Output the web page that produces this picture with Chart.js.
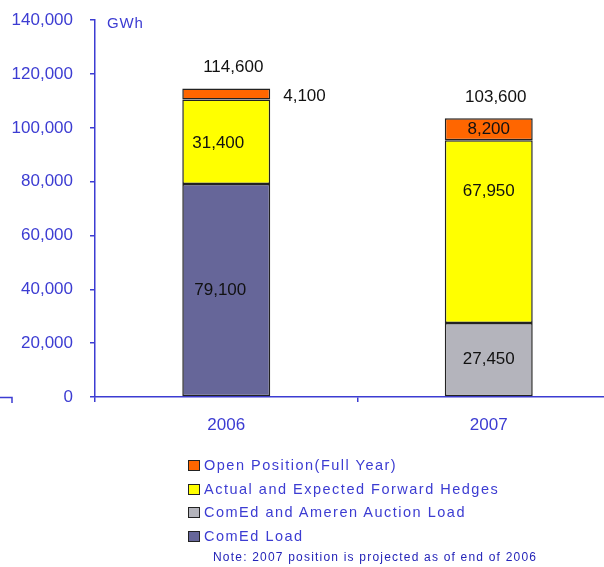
<!DOCTYPE html>
<html>
<head>
<meta charset="utf-8">
<script src="https://cdn.jsdelivr.net/npm/chart.js@4.4.1/dist/chart.umd.min.js"></script>
<style>
  html, body { margin: 0; padding: 0; background: #fff; overflow: hidden; }
  #marco { position: relative; width: 604px; height: 567px; overflow: hidden; }
  #grafica { position: absolute; left: 0; top: -7px; }
  #leyenda {
    position: absolute; left: 188px; top: 453px;
    font-family: "Liberation Sans", Arial, sans-serif; color: #3c3cd2;
  }
  .fila { height: 23.7px; line-height: 24px; font-size: 14.5px; letter-spacing: 1.5px; white-space: nowrap; }
  .caja {
    display: inline-block; width: 10px; height: 9px; border: 1.5px solid #222;
    vertical-align: -1px; margin-right: 4px;
  }
  #nota {
    margin-left: 25px; margin-top: 2px; font-size: 12px; letter-spacing: 1.2px;
    color: #2424b8; white-space: nowrap;
  }
</style>
</head>
<body>
<div id="marco">
  <canvas id="grafica" width="620" height="567"></canvas>
  <div id="leyenda"></div>
</div>
<script>
// Datos (GWh)
const anios = ['2006', '2007'];
const cargaComEd = [79100, null];
const subastaComEdAmeren = [null, 27450];
const coberturas = [31400, 67950];
const posicionAbierta = [4100, 8200];
const ticksY = [0, 20000, 40000, 60000, 80000, 100000, 120000, 140000];

const AZUL = '#3c3cd2';
const FUENTE = '"Liberation Sans", Arial, sans-serif';
const fmt = v => v.toLocaleString('en-US');

// Etiquetas de valor dentro/al lado de cada segmento y totales encima
const etiquetasPlugin = {
  id: 'etiquetas',
  afterDatasetsDraw(chart) {
    const ctx = chart.ctx;
    const escalaY = chart.scales.y;
    ctx.save();
    ctx.font = '17px ' + FUENTE;
    ctx.fillStyle = '#111';
    ctx.textBaseline = 'middle';

    chart.data.datasets.forEach((ds, i) => {
      const meta = chart.getDatasetMeta(i);
      meta.data.forEach((barra, j) => {
        const valor = ds.data[j];
        if (valor == null) return;
        const [dx, dy] = (ds.despEtiqueta && ds.despEtiqueta[j]) || [0, 0];
        const yMedio = (barra.y + barra.base) / 2 + dy;
        if (ds.posEtiqueta && ds.posEtiqueta[j] === 'derecha') {
          ctx.textAlign = 'left';
          ctx.fillText(fmt(valor), barra.x + barra.width / 2 + dx, yMedio);
        } else {
          ctx.textAlign = 'center';
          ctx.fillText(fmt(valor), barra.x + dx, yMedio);
        }
      });
    });

    // Totales de cada año
    ctx.textAlign = 'center';
    anios.forEach((_, j) => {
      const total = chart.data.datasets.reduce((s, ds) => s + (ds.data[j] || 0), 0);
      const barra = chart.getDatasetMeta(3).data[j];
      ctx.fillText(fmt(total), barra.x + 7, escalaY.getPixelForValue(total) - 21);
    });

    // Unidad junto al eje
    ctx.font = '15px ' + FUENTE;
    ctx.fillStyle = AZUL;
    ctx.textAlign = 'left';
    if ('letterSpacing' in ctx) ctx.letterSpacing = '0.8px';
    ctx.fillText('GWh', chart.chartArea.left + 12, escalaY.getPixelForValue(140000) + 4);
    ctx.restore();

    // resto de eje en el borde izquierdo
    const y0 = escalaY.getPixelForValue(0);
    ctx.save();
    ctx.strokeStyle = AZUL;
    ctx.lineWidth = 1.5;
    ctx.beginPath();
    ctx.moveTo(0, y0 + 0.5);
    ctx.lineTo(12, y0 + 0.5);
    ctx.lineTo(12, y0 + 6);
    ctx.stroke();
    ctx.restore();
  }
};

const borde = { borderColor: '#222', borderWidth: 1.5, borderSkipped: false };

const grafica = new Chart(document.getElementById('grafica'), {
  type: 'bar',
  data: {
    labels: anios,
    datasets: [
      { label: 'ComEd Load', data: cargaComEd, backgroundColor: '#666699', ...borde,
        despEtiqueta: [[-6, 0], [0, 0]] },
      { label: 'ComEd and Ameren Auction Load', data: subastaComEdAmeren, backgroundColor: '#b4b4bc', ...borde },
      { label: 'Actual and Expected Forward Hedges', data: coberturas, backgroundColor: '#ffff00', ...borde,
        despEtiqueta: [[-8, 1], [0, -40]] },
      { label: 'Open Position(Full Year)', data: posicionAbierta, backgroundColor: '#ff6600', ...borde,
        posEtiqueta: ['derecha', 'dentro'], despEtiqueta: [[13, 2], [0, 0]] }
    ]
  },
  options: {
    responsive: false,
    animation: false,
    barPercentage: 0.335,
    categoryPercentage: 1,
    layout: { autoPadding: false, padding: { top: 20, right: 0, left: 0, bottom: 0 } },
    plugins: {
      legend: { display: false },
      tooltip: { enabled: false }
    },
    scales: {
      x: {
        stacked: true,
        afterFit: escala => { escala.height = 163; },
        border: { color: AZUL, width: 1.5 },
        grid: { offset: true, drawOnChartArea: false, tickLength: 5, color: AZUL, lineWidth: 1.5 },
        ticks: { color: AZUL, padding: 13, font: { family: FUENTE, size: 17 } }
      },
      y: {
        stacked: true,
        min: 0,
        max: 140000,
        afterFit: escala => { escala.width = 95; },
        afterBuildTicks: escala => { escala.ticks = ticksY.map(v => ({ value: v })); },
        border: { color: AZUL, width: 1.5 },
        grid: { drawOnChartArea: false, tickLength: 5, color: AZUL, lineWidth: 1.5 },
        ticks: { color: AZUL, padding: 17, font: { family: FUENTE, size: 17 }, callback: v => fmt(v) }
      }
    }
  },
  plugins: [etiquetasPlugin]
});

// Leyenda en orden inverso a la pila, con nota al pie
const leyenda = document.getElementById('leyenda');
grafica.data.datasets.slice().reverse().forEach(ds => {
  const fila = document.createElement('div');
  fila.className = 'fila';
  const caja = document.createElement('span');
  caja.className = 'caja';
  caja.style.background = ds.backgroundColor;
  fila.appendChild(caja);
  fila.appendChild(document.createTextNode(ds.label));
  leyenda.appendChild(fila);
});
const nota = document.createElement('div');
nota.id = 'nota';
nota.textContent = 'Note: 2007 position is projected as of end of 2006';
leyenda.appendChild(nota);
</script>
</body>
</html>
